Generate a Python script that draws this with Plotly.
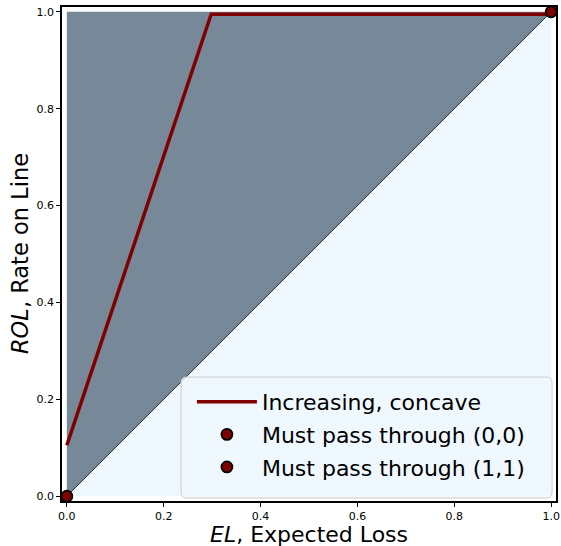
import plotly.graph_objects as go

# Data
upper_x = [0, 0, 1, 0]
upper_y = [0, 1, 1, 0]
lower_x = [0, 1, 1, 0]
lower_y = [0, 0, 1, 0]
diag_x = [0, 1]
diag_y = [0, 1]
curve_x = [0.0, 0.298, 1.0]
curve_y = [0.105, 0.995, 0.995]
p0_x, p0_y = [0.0], [0.0]
p1_x, p1_y = [1.0], [1.0]
tick_vals = [0.0, 0.2, 0.4, 0.6, 0.8, 1.0]
tick_text = ["0.0", "0.2", "0.4", "0.6", "0.8", "1.0"]
x_title = "<i>EL</i>, Expected Loss"
y_title = "<i>ROL</i>, Rate on Line"

FONT = "DejaVu Sans"
DARKRED = "#800000"

fig = go.Figure()
fig.add_trace(go.Scatter(x=upper_x, y=upper_y, fill="toself", fillcolor="#778899",
                         line=dict(width=0), mode="lines", showlegend=False, hoverinfo="skip"))
fig.add_trace(go.Scatter(x=lower_x, y=lower_y, fill="toself", fillcolor="#F0F8FF",
                         line=dict(width=0), mode="lines", showlegend=False, hoverinfo="skip"))
fig.add_trace(go.Scatter(x=diag_x, y=diag_y, mode="lines", line=dict(color="black", width=0.8),
                         showlegend=False, hoverinfo="skip"))
fig.add_trace(go.Scatter(x=curve_x, y=curve_y, mode="lines", name="Increasing, concave",
                         legendgroup="a", line=dict(color=DARKRED, width=3.5)))
fig.add_trace(go.Scatter(x=p0_x, y=p0_y, mode="markers", name="Must pass through (0,0)",
                         legendgroup="b",
                         marker=dict(color=DARKRED, size=11, line=dict(color="black", width=1.8)),
                         cliponaxis=False))
fig.add_trace(go.Scatter(x=p1_x, y=p1_y, mode="markers", name="Must pass through (1,1)",
                         legendgroup="c",
                         marker=dict(color=DARKRED, size=11, line=dict(color="black", width=1.8)),
                         cliponaxis=False))

axis_common = dict(range=[-0.01, 1.01], tickvals=tick_vals, ticktext=tick_text,
                   showgrid=False, zeroline=False, showline=True, linecolor="black",
                   linewidth=1.5, mirror=True, ticks="outside", ticklen=4, tickwidth=1,
                   tickcolor="black", automargin=False,
                   tickfont=dict(family=FONT, size=11, color="black"))

# legend frame (rounded box) in paper coordinates
bx0, bx1, by0, by1 = 0.241, 0.992, 0.006, 0.251
r = 0.012
box_path = (f"M {bx0+r},{by0} L {bx1-r},{by0} Q {bx1},{by0} {bx1},{by0+r} "
            f"L {bx1},{by1-r} Q {bx1},{by1} {bx1-r},{by1} L {bx0+r},{by1} "
            f"Q {bx0},{by1} {bx0},{by1-r} L {bx0},{by0+r} Q {bx0},{by0} {bx0+r},{by0} Z")

fig.update_layout(
    width=561, height=546,
    margin=dict(l=62, r=5, t=7, b=45, autoexpand=False),
    paper_bgcolor="white", plot_bgcolor="white",
    font=dict(family=FONT, color="black"),
    xaxis=axis_common,
    yaxis=axis_common,
    shapes=[dict(type="path", path=box_path, xref="paper", yref="paper",
                 fillcolor="rgba(240,248,255,0.85)", line=dict(color="#cccccc", width=1),
                 layer="above")],
    legend=dict(x=0.263, y=0.243, xanchor="left", yanchor="top",
                bgcolor="rgba(0,0,0,0)", borderwidth=0, tracegroupgap=1,
                traceorder="grouped",
                font=dict(family=FONT, size=22, color="black"), itemwidth=60),
    annotations=[
        dict(text=x_title, xref="paper", yref="paper", x=0.5, y=-0.067,
             xanchor="center", yanchor="middle", showarrow=False,
             font=dict(family=FONT, size=22, color="black")),
        dict(text=y_title, xref="paper", yref="paper", x=-0.085, y=0.5, textangle=-90,
             xanchor="center", yanchor="middle", showarrow=False,
             font=dict(family=FONT, size=22.5, color="black")),
    ],
)

fig.write_html("out.html", config={"displayModeBar": False},
               post_script="document.body.style.margin='0';")
